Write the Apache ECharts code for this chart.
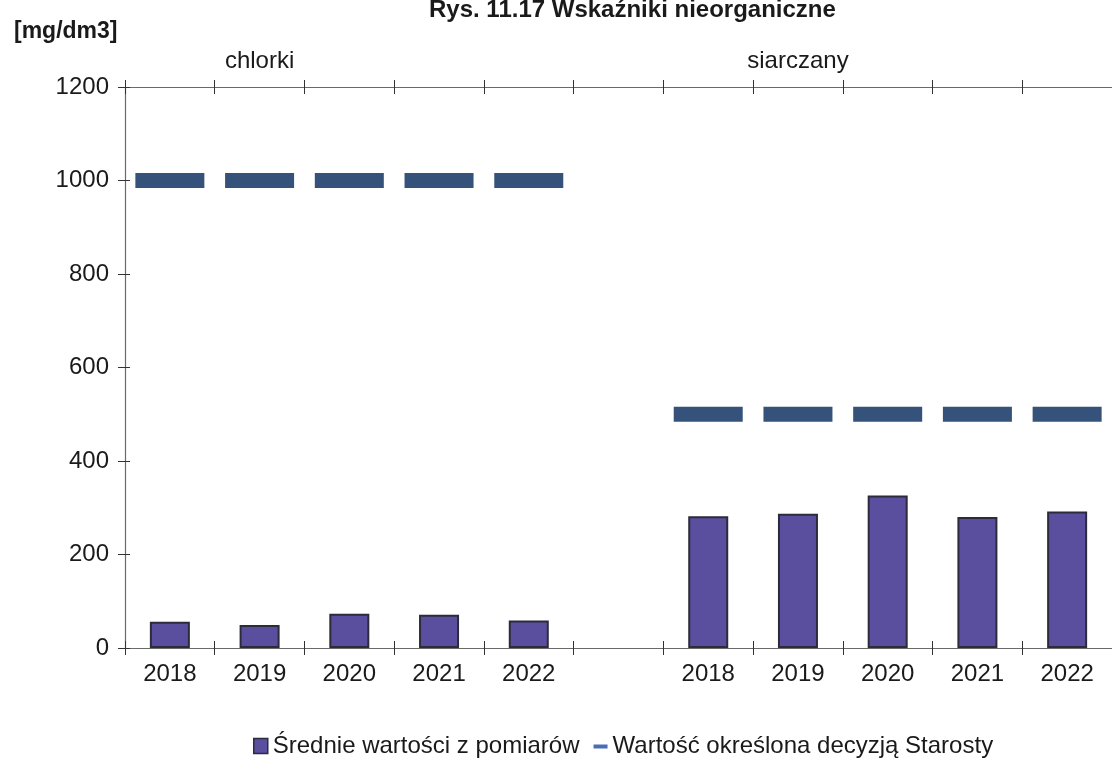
<!DOCTYPE html>
<html>
<head>
    <meta charset="utf-8">
    <script src="https://cdn.jsdelivr.net/npm/echarts@6/dist/echarts.min.js"></script>
</head>
<body style="margin:0">
    <div id="main" style="width: 1112px; height: 758px"></div>
    <script type="text/javascript">
        // categories: two groups of years with an empty slot between them
        var years = ['2018', '2019', '2020', '2021', '2022', '', '2018', '2019', '2020', '2021', '2022'];
        // measured averages [mg/dm3]
        var srednie = [56, 49, 73, 71, 59, null, 282, 287, 326, 280, 292];
        // limit set by the decision of Starosta
        var limity = [1000, 1000, 1000, 1000, 1000, null, 500, 500, 500, 500, 500];
        // group captions placed above a category index
        var grupy = [[1, 1200, 'chlorki'], [7, 1200, 'siarczany']];
        var yTicks = {min: 0, max: 1200, interval: 200};

        var font = 'Liberation Sans, Arial, sans-serif';
        var axisColor = '#6a6a6a';
        var textColor = '#1a1a1a';

        window.onload = function () {
            var myChart = echarts.init(document.getElementById('main'));

            var hiddenX = function (pos, inside) {
                return {
                    type: 'category',
                    position: pos,
                    data: years,
                    axisLine: {show: true, lineStyle: {color: axisColor, width: 1.2}},
                    axisTick: {show: true, inside: inside, length: 7, lineStyle: {color: '#333'}},
                    axisLabel: {show: false},
                    splitLine: {show: false}
                };
            };

            var option = {
                animation: false,
                title: [
                    {
                        text: 'Rys. 11.17 Wskaźniki nieorganiczne',
                        left: 424,
                        top: -7,
                        textStyle: {fontFamily: font, fontSize: 24, fontWeight: 'bold', color: textColor}
                    },
                    {
                        text: '[mg/dm3]',
                        left: 9,
                        top: 15,
                        textStyle: {fontFamily: font, fontSize: 23, fontWeight: 'bold', color: textColor}
                    }
                ],
                legend: {
                    left: 248,
                    top: 729,
                    itemGap: 14,
                    itemWidth: 14,
                    itemHeight: 15,
                    textStyle: {fontFamily: font, fontSize: 24, color: textColor},
                    data: [
                        {name: 'Średnie wartości z pomiarów', icon: 'rect',
                         itemStyle: {color: '#5a4f9f', borderColor: '#2b2b3b', borderWidth: 1.5}},
                        {name: 'Wartość określona decyzją Starosty',
                         icon: 'path://M0,0 M0,6 L14,6 L14,10 L0,10 Z M14,15',
                         itemStyle: {color: '#4a6db5'}}
                    ]
                },
                grid: {left: 125, top: 87, bottom: 110, right: -5},
                xAxis: [
                    {
                        type: 'category',
                        position: 'bottom',
                        data: years,
                        axisLine: {show: true, lineStyle: {color: axisColor, width: 1.2}},
                        axisTick: {show: true, length: 7, lineStyle: {color: '#333'}},
                        axisLabel: {fontFamily: font, fontSize: 24, color: textColor, margin: 14},
                        splitLine: {show: false}
                    },
                    hiddenX('bottom', true),
                    hiddenX('top', true),
                    hiddenX('top', false)
                ],
                yAxis: [
                    {
                        type: 'value',
                        min: yTicks.min,
                        max: yTicks.max,
                        interval: yTicks.interval,
                        axisLine: {show: true, lineStyle: {color: axisColor, width: 1.2}},
                        axisTick: {show: true, length: 7, lineStyle: {color: '#333'}},
                        axisLabel: {fontFamily: font, fontSize: 24, color: textColor, margin: 16,
                                    formatter: function (v) { return String(v); }},
                        splitLine: {show: false}
                    },
                    {
                        type: 'value',
                        position: 'left',
                        min: yTicks.min,
                        max: yTicks.max,
                        interval: yTicks.interval,
                        axisLine: {show: false},
                        axisTick: {show: true, inside: true, length: 5, lineStyle: {color: '#333'}},
                        axisLabel: {show: false},
                        splitLine: {show: false}
                    }
                ],
                series: [
                    {
                        name: 'Średnie wartości z pomiarów',
                        type: 'bar',
                        barWidth: 40,
                        data: srednie,
                        itemStyle: {color: '#5a4f9f', borderColor: '#2b2b3b', borderWidth: 2}
                    },
                    {
                        name: 'Wartość określona decyzją Starosty',
                        type: 'scatter',
                        symbol: 'rect',
                        symbolSize: [69, 15],
                        data: limity,
                        itemStyle: {color: '#34527a', opacity: 1}
                    },
                    {
                        name: 'grupy',
                        type: 'scatter',
                        symbolSize: 0,
                        silent: true,
                        data: grupy,
                        itemStyle: {opacity: 1},
                        label: {
                            show: true,
                            position: 'top',
                            distance: 14,
                            fontFamily: font,
                            fontSize: 24,
                            color: textColor,
                            opacity: 1,
                            formatter: function (p) { return p.data[2]; }
                        }
                    }
                ]
            };
            myChart.setOption(option);
        };
    </script>
</body>
</html>
